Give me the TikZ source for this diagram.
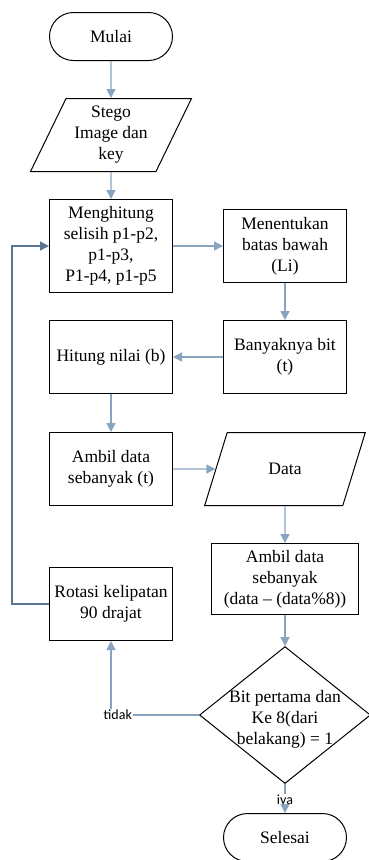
\documentclass[tikz,border=0pt]{standalone}
\usepackage{fontspec}
\setmainfont{Liberation Serif}
\newfontfamily\lblfont{Carlito}
\usetikzlibrary{positioning,shapes.geometric,arrows.meta}
\definecolor{linkc}{RGB}{136,164,192}
\definecolor{loopc}{RGB}{88,118,148}

\begin{document}
\begin{tikzpicture}[node distance=37pt,>={Triangle[length=9pt,width=9pt]},every node/.append style={align=center,font=\fontsize{17.5}{21}\selectfont},term/.style={draw, rounded corners=24pt, minimum width=123pt, minimum height=48pt, line width=1pt},proc/.style={rectangle, draw, minimum width=122.7pt, minimum height=72.7pt, inner sep=2pt, line width=1.3pt},
  io/.style={trapezium, draw, trapezium left angle=63.4, trapezium right angle=116.6, trapezium stretches=true, minimum width=161pt, minimum height=73pt, inner sep=1pt, line width=1pt},
  dec/.style={diamond, draw, minimum width=171pt, minimum height=137pt, inner sep=0pt, line width=1pt},
  link/.style={->, draw=linkc, line width=1.3pt}, plain/.style={draw=linkc, line width=1.3pt}, back/.style={->, draw=loopc, line width=1.3pt},
  lbl/.style={font=\lblfont\fontsize{14}{16}\selectfont, inner sep=0.5pt}]
    \useasboundingbox (0,0) rectangle (369pt,-860pt);
    \node [term] (M) at (111pt,-36.5pt) {Mulai};
    \node [io, below=of M] (K) {Stego\\Image dan\\key};
    \node [proc, below=27pt of K, minimum height=92.7pt] (H) {Menghitung\\selisih p1-p2,\\p1-p3,\\P1-p4, p1-p5};
    \node [proc, right=50pt of H] (L) {Menentukan\\batas bawah\\(Li)};
    \node [proc, below=of L] (T) {Banyaknya bit\\(t)};
    \node [proc, left=50pt of T] (B) {Hitung nilai (b)};
    \node [proc, below=38pt of B] (A1) {Ambil data\\sebanyak (t)};
    \node [io, below=38pt of T] (D) {Data};
    \node [proc, below=of D, minimum width=146.7pt, minimum height=70.7pt] (A2) {Ambil data\\sebanyak\\(data – (data\%8))};
    \node [proc, below=61pt of A1] (R) {Rotasi kelipatan\\90 drajat};
    \node [dec, below=31pt of A2, label={[yshift=-4pt]center:Bit pertama dan\\Ke 8(dari\\belakang) = 1}] (C) {};
    \node [term, below=29pt of C] (E) {Selesai};
    \node [lbl, anchor=west] (N) at ([xshift=-8pt]C.west -| R.south) {tidak};
    \node [lbl] (Y) at ([yshift=-17pt]C.south) {iya};
    \draw [link] (M) -- (K);
    \draw [link] (K) -- (H);
    \draw [link] (H) -- (L);
    \draw [link] (L) -- (T);
    \draw [link] (T) -- (B);
    \draw [link] (B) -- (A1);
    \draw [link] (A1) -- (D);
    \draw [link] (D) -- (A2);
    \draw [link] (A2) -- (C);
    \draw [plain] (C) -- (N);
    \draw [link] (N.north -| R.south) -- (R);
    \draw [plain] (C) -- (Y);
    \draw [link] (Y) -- (E);
    \draw [back] (R.west) -- ++(-37pt,0) |- (H.west);
\end{tikzpicture}
\end{document}
